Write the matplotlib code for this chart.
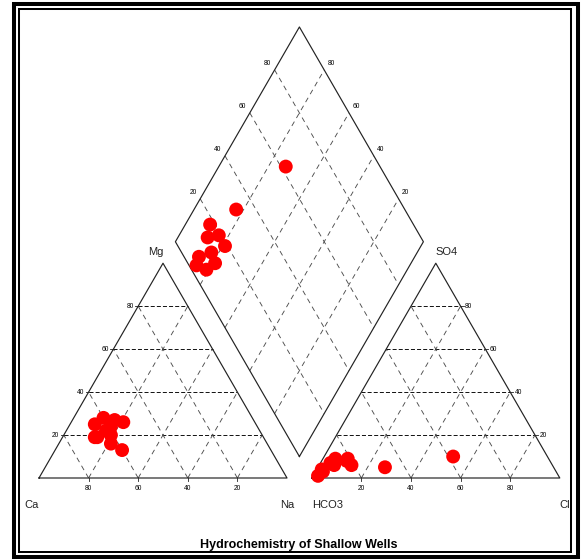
import numpy as np
import matplotlib.pyplot as plt
from matplotlib.patches import Rectangle

plt.rcParams['font.family'] = ['Liberation Sans', 'DejaVu Sans']
plt.rcParams['lines.scale_dashes'] = False

# major ions of the shallow wells (% of meq/L)
ca = [60, 56, 65, 60, 62, 53, 68, 59, 63, 61, 67]
mg = [13, 27, 25, 28, 22, 26, 19, 24, 16, 20, 19]
na = [27, 17, 10, 12, 16, 21, 13, 17, 21, 19, 14]
hco3 = [38, 68, 82, 86, 81, 81, 94, 88, 89, 94, 97]
so4 = [10, 5, 8, 9, 6, 9, 4, 6, 7, 3, 1]
cl = [52, 27, 10, 5, 13, 10, 2, 6, 4, 3, 2]

grid_vals = [20, 40, 60, 80]
title = "Hydrochemistry of Shallow Wells"

H = np.sqrt(3) / 2
GAP = 0.1
X2 = 1 + GAP  # left corner of the anion triangle

# diamond corners
B = np.array([1 + GAP / 2, GAP * H])
L = np.array([0.5 + GAP / 2, H + GAP * H])
R = np.array([1.5 + GAP / 2, H + GAP * H])
T = np.array([1 + GAP / 2, 2 * H + GAP * H])

W, HT = 581, 560
fig = plt.figure(figsize=(W / 100, HT / 100), dpi=100)
ax = fig.add_axes([0, 0, 1, 1])
ax.set_xlim(-39 / 248, (W - 39) / 248)
ax.set_ylim((478 - HT) / 248, 478 / 248)
ax.axis('off')

edge = dict(color='#222222', lw=0.85, zorder=2)
hdash = dict(color='black', lw=0.65, ls=(0, (2.9, 1.5)), zorder=1)
ddash = dict(color='#4d4d4d', lw=0.65, ls=(0, (3.6, 3.0)), zorder=1)
tick_font = dict(fontsize=4.8, ha='center', va='center', textcoords='offset pixels')


def triangle(x0):
    ax.plot([x0, x0 + 1, x0 + 0.5, x0], [0, 0, H, 0], **edge)
    for v in grid_vals:
        p = v / 100
        ax.plot([x0 + p / 2, x0 + 1 - p / 2], [p * H, p * H], **hdash)
        ax.plot([x0 + p, x0 + p / 2], [0, p * H], **ddash)
        ax.plot([x0 + p, x0 + p + (1 - p) / 2], [0, (1 - p) * H], **ddash)
        # small tick below the base
        ax.plot([x0 + p, x0 + p], [0, -0.012], color='#222222', lw=0.6)


triangle(0)
triangle(X2)

# diamond outline and grid
d = np.array([B, L, T, R, B])
ax.plot(d[:, 0], d[:, 1], **edge)
for v in grid_vals:
    p = v / 100
    a, b = L + p * (T - L), B + p * (R - B)
    ax.plot([a[0], b[0]], [a[1], b[1]], **ddash)
    a, b = B + p * (L - B), R + p * (T - R)
    ax.plot([a[0], b[0]], [a[1], b[1]], **ddash)

# tick labels
for v in grid_vals:
    p = v / 100
    ax.annotate(str(100 - v), (p, 0), xytext=(0, -11), **tick_font)
    ax.annotate(str(v), (p / 2, p * H), xytext=(-8, 0), **tick_font)
    ax.plot([p / 2, p / 2 - 0.012], [p * H, p * H], color='#222222', lw=0.6)
    ax.annotate(str(v), (X2 + p, 0), xytext=(0, -11), **tick_font)
    ax.annotate(str(v), (X2 + 1 - p / 2, p * H), xytext=(8, 0), **tick_font)
    ax.plot([X2 + 1 - p / 2, X2 + 1 - p / 2 + 0.012], [p * H, p * H],
            color='#222222', lw=0.6)
    q = L + p * (T - L)
    ax.annotate(str(v), q, xytext=(-7, 6), **tick_font)
    q = R + p * (T - R)
    ax.annotate(str(v), q, xytext=(7, 6), **tick_font)

# corner labels
lab = dict(fontsize=8, ha='center', va='center', textcoords='offset pixels',
           color='#222222')
ax.annotate('Ca', (0, 0), xytext=(-7, -27), **lab)
ax.annotate('Na', (1, 0), xytext=(0, -27), **lab)
ax.annotate('Mg', (0.5, H), xytext=(-7, 11), **lab)
ax.annotate('HCO3', (X2, 0), xytext=(16, -27), **lab)
ax.annotate('Cl', (X2 + 1, 0), xytext=(5, -27), **lab)
ax.annotate('SO4', (X2 + 0.5, H), xytext=(11, 11), **lab)

# sample points
ca_a, mg_a, na_a = np.array(ca) / 100, np.array(mg) / 100, np.array(na) / 100
hc_a, so_a, cl_a = np.array(hco3) / 100, np.array(so4) / 100, np.array(cl) / 100

cx = na_a + mg_a / 2
cy = mg_a * H
ax_ = X2 + cl_a + so_a / 2
ay = so_a * H
t = 2 + GAP - hc_a - na_a
dx = na_a + t / 2
dy = t * H

pts = dict(s=100, c='red', edgecolors='none', zorder=3)
ax.scatter(cx, cy, **pts)
ax.scatter(ax_, ay, **pts)
ax.scatter(dx, dy, **pts)

fig.text(299 / W, 1 - 545 / HT, title, ha='center', va='center', fontsize=9,
         fontweight='bold', family=['Liberation Sans Narrow', 'Liberation Sans'])

# double frame
fig.add_artist(Rectangle((14 / W, 1 - 557 / HT), 563.5 / W, 553 / HT,
                         transform=fig.transFigure, fill=False, lw=2.9,
                         ec='black'))
fig.add_artist(Rectangle((19 / W, 1 - 551.5 / HT), 551.5 / W, 542.5 / HT,
                         transform=fig.transFigure, fill=False, lw=1.45,
                         ec='black'))

fig.savefig('out.png', dpi=100)
